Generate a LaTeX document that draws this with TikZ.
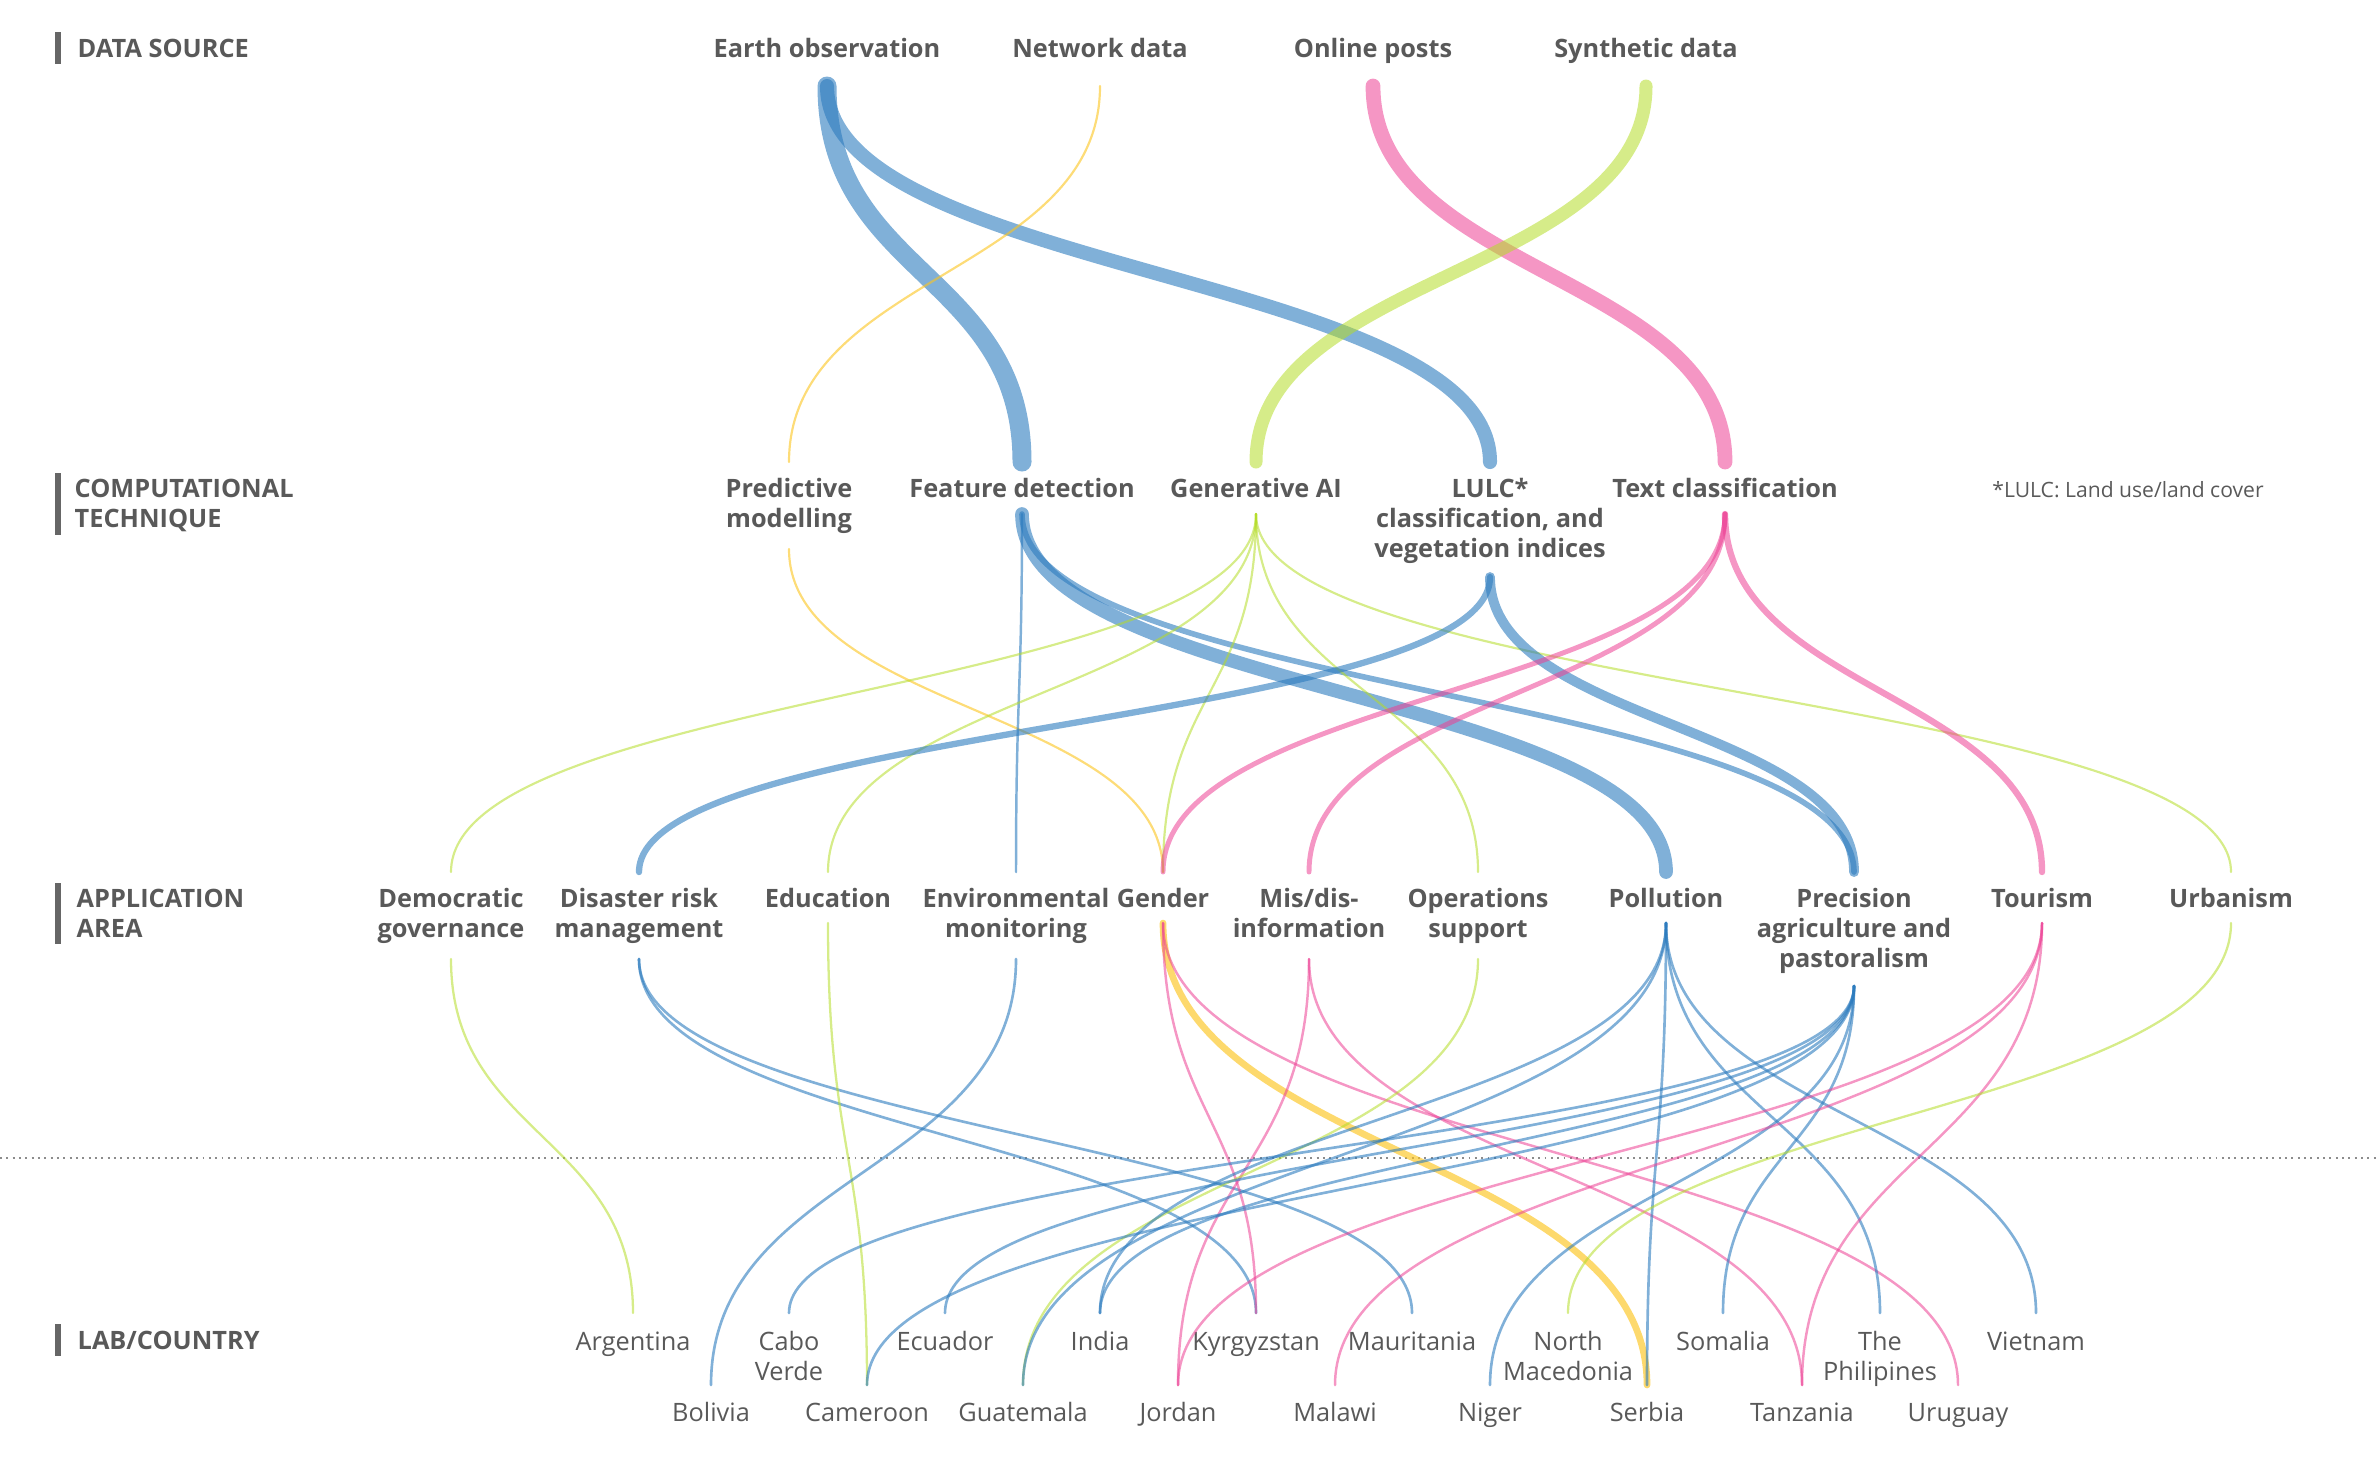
\documentclass[tikz,border=0pt]{standalone}
\usepackage{fontspec}
\setmainfont{Open Sans}
\usetikzlibrary{calc}
\definecolor{txt}{HTML}{595959}
\definecolor{cblue}{RGB}{44,123,190}
\definecolor{cpink}{RGB}{236,64,148}
\definecolor{cgreen}{RGB}{180,220,40}
\definecolor{cyel}{RGB}{252,196,30}
\definecolor{barc}{HTML}{666666}
\definecolor{dotc}{HTML}{8c8c8c}
\newcommand\mylink[3][]{\draw[#1] (#2) .. controls ($(#2)!0.5!(#2|-#3)$) and ($(#3)!0.5!(#3|-#2)$) .. (#3);}
\begin{document}
\begin{tikzpicture}[x=0.01cm,y=-0.01cm,
  lab/.style={text=txt,font=\fontsize{7.2pt}{8.53pt}\selectfont\bfseries,inner sep=0pt,anchor=base,align=center},
  cty/.style={text=txt,font=\fontsize{7.2pt}{8.53pt}\selectfont,inner sep=0pt,anchor=base,align=center},
  hdr/.style={text=txt,font=\fontsize{7.2pt}{8.53pt}\selectfont\bfseries,inner sep=0pt,anchor=base west,align=left},
  lk/.style={draw opacity=0.6,line cap=round},
  bl/.style={lk,cblue},
  pk/.style={lk,cpink,draw opacity=0.55},
  gr/.style={lk,cgreen,draw opacity=0.55},
  ye/.style={lk,cyel,draw opacity=0.6},
  thin/.style={line width=0.62pt}
]
\useasboundingbox (0,0) rectangle (2379,1459);
% headers (base anchor of a multi-line node = last line's baseline)
\fill[barc] (55,32) rectangle (61,64);
\fill[barc] (55,473) rectangle (61,535);
\fill[barc] (55,883) rectangle (61,944);
\fill[barc] (55,1324) rectangle (61,1356);
\node[hdr] (h1) at (77,57) {DATA SOURCE};
\node[hdr] (h2) at (74,527) {COMPUTATIONAL\\TECHNIQUE};
\node[hdr] (h3) at (76,937) {APPLICATION\\AREA};
\node[hdr] (h4) at (77,1349) {LAB/COUNTRY};
% dotted separator
\coordinate (dl) at (0,1158);
\coordinate (dr) at (2379,1158);
\draw[dotc,line width=0.55pt,dash pattern=on 0.55pt off 1.25pt] (dl) -- (dr);
% row 1
\node[lab] (eo) at (827,57) {Earth observation};
\node[lab] (nd) at (1100,57) {Network data};
\node[lab] (op) at (1373,57) {Online posts};
\node[lab] (sd) at (1646,57) {Synthetic data};
\coordinate (eoB) at (827,86);
\coordinate (ndB) at (1100,86);
\coordinate (opB) at (1373,86);
\coordinate (sdB) at (1646,86);
% row 2
\node[lab] (pm) at (789,527) {Predictive\\modelling};
\node[lab] (fd) at (1022,497) {Feature detection};
\node[lab] (ga) at (1256,497) {Generative AI};
\node[lab] (lu) at (1490,557) {LULC*\\classification, and\\vegetation indices};
\node[lab] (tc) at (1725,497) {Text classification};
\node[cty,font=\fontsize{6pt}{7pt}\selectfont] (fn) at (2128,497) {*LULC: Land use/land cover};
\coordinate (pmT) at (789,462);  \coordinate (pmB) at (789,549);
\coordinate (fdT) at (1022,462); \coordinate (fdB) at (1022,514);
\coordinate (gaT) at (1256,462); \coordinate (gaB) at (1256,514);
\coordinate (luT) at (1490,462); \coordinate (luB) at (1490,577);
\coordinate (tcT) at (1725,462); \coordinate (tcB) at (1725,514);
% row 3
\node[lab] (dg) at (451,937) {Democratic\\governance};
\node[lab] (dr) at (639,937) {Disaster risk\\management};
\node[lab] (ed) at (828,907) {Education};
\node[lab] (en) at (1016,937) {Environmental\\monitoring};
\node[lab] (ge) at (1163,907) {Gender};
\node[lab] (mi) at (1309,937) {Mis/dis-\\information};
\node[lab] (os) at (1478,937) {Operations\\support};
\node[lab] (po) at (1666,907) {Pollution};
\node[lab] (pr) at (1854,967) {Precision\\agriculture and\\pastoralism};
\node[lab] (to) at (2042,907) {Tourism};
\node[lab] (ur) at (2231,907) {Urbanism};
\coordinate (dgT) at (451,872);  \coordinate (dgB) at (451,959);
\coordinate (drT) at (639,872);  \coordinate (drB) at (639,959);
\coordinate (edT) at (828,872);  \coordinate (edB) at (828,923);
\coordinate (enT) at (1016,872); \coordinate (enB) at (1016,959);
\coordinate (geT) at (1163,872); \coordinate (geB) at (1163,923);
\coordinate (miT) at (1309,872); \coordinate (miB) at (1309,959);
\coordinate (osT) at (1478,872); \coordinate (osB) at (1478,959);
\coordinate (poT) at (1666,872); \coordinate (poB) at (1666,923);
\coordinate (prT) at (1854,872); \coordinate (prB) at (1854,986);
\coordinate (toT) at (2042,872); \coordinate (toB) at (2042,923);
\coordinate (urT) at (2231,872); \coordinate (urB) at (2231,923);
% row 4
\node[cty] (ar) at (633,1350) {Argentina};
\node[cty] (cv) at (789,1380) {Cabo\\Verde};
\node[cty] (ec) at (945,1350) {Ecuador};
\node[cty] (in) at (1100,1350) {India};
\node[cty] (ky) at (1256,1350) {Kyrgyzstan};
\node[cty] (ma) at (1412,1350) {Mauritania};
\node[cty] (nm) at (1568,1380) {North\\Macedonia};
\node[cty] (so) at (1723,1350) {Somalia};
\node[cty] (ph) at (1880,1380) {The\\Philipines};
\node[cty] (vi) at (2036,1350) {Vietnam};
\node[cty] (bo) at (711,1421) {Bolivia};
\node[cty] (ca) at (867,1421) {Cameroon};
\node[cty] (gu) at (1023,1421) {Guatemala};
\node[cty] (jo) at (1178,1421) {Jordan};
\node[cty] (mw) at (1335,1421) {Malawi};
\node[cty] (ni) at (1490,1421) {Niger};
\node[cty] (se) at (1647,1421) {Serbia};
\node[cty] (ta) at (1802,1421) {Tanzania};
\node[cty] (uy) at (1958,1421) {Uruguay};
\coordinate (arT) at (633,1313);  \coordinate (cvT) at (789,1313);
\coordinate (ecT) at (945,1313);  \coordinate (inT) at (1100,1313);
\coordinate (kyT) at (1256,1313); \coordinate (maT) at (1412,1313);
\coordinate (nmT) at (1568,1313); \coordinate (soT) at (1723,1313);
\coordinate (phT) at (1880,1313); \coordinate (viT) at (2036,1313);
\coordinate (boT) at (711,1385);  \coordinate (caT) at (867,1385);
\coordinate (guT) at (1023,1385); \coordinate (joT) at (1178,1385);
\coordinate (mwT) at (1335,1385); \coordinate (niT) at (1490,1385);
\coordinate (seT) at (1647,1385); \coordinate (taT) at (1802,1385);
\coordinate (uyT) at (1958,1385);
% ---- links: source -> technique
\mylink[bl,line width=5.4pt]{eoB}{fdT}
\mylink[bl,line width=4.0pt]{eoB}{luT}
\mylink[ye,thin]{ndB}{pmT}
\mylink[pk,line width=4.2pt]{opB}{tcT}
\mylink[gr,line width=3.7pt]{sdB}{gaT}
% ---- technique -> area
\mylink[ye,thin]{pmB}{geT}
\mylink[bl,line width=0.7pt]{fdB}{enT}
\mylink[bl,line width=3.9pt]{fdB}{poT}
\mylink[bl,line width=1.6pt]{fdB}{prT}
\mylink[gr,thin]{gaB}{dgT}
\mylink[gr,thin]{gaB}{edT}
\mylink[gr,thin]{gaB}{geT}
\mylink[gr,thin]{gaB}{osT}
\mylink[gr,thin]{gaB}{urT}
\mylink[bl,line width=1.8pt]{luB}{drT}
\mylink[bl,line width=2.8pt]{luB}{prT}
\mylink[pk,line width=1.4pt]{tcB}{geT}
\mylink[pk,line width=1.4pt]{tcB}{miT}
\mylink[pk,line width=1.8pt]{tcB}{toT}
% ---- area -> country
\mylink[gr,line width=0.65pt]{dgB}{arT}
\mylink[bl,line width=0.75pt]{drB}{kyT}
\mylink[bl,line width=0.75pt]{drB}{maT}
\mylink[gr,line width=0.65pt]{edB}{caT}
\mylink[bl,line width=0.75pt]{enB}{boT}
\mylink[ye,line width=1.9pt,draw opacity=0.65]{geB}{seT}
\mylink[pk,line width=0.7pt]{geB}{kyT}
\mylink[pk,line width=0.7pt]{geB}{uyT}
\mylink[pk,line width=0.7pt]{miB}{joT}
\mylink[pk,line width=0.7pt]{miB}{taT}
\mylink[gr,line width=0.65pt]{osB}{guT}
\mylink[bl,line width=0.75pt]{poB}{seT}
\mylink[bl,line width=0.75pt]{poB}{phT}
\mylink[bl,line width=0.75pt]{poB}{viT}
\mylink[bl,line width=0.75pt]{poB}{inT}
\mylink[bl,line width=0.75pt]{poB}{guT}
\mylink[bl,line width=0.75pt]{prB}{cvT}
\mylink[bl,line width=0.75pt]{prB}{ecT}
\mylink[bl,line width=0.75pt]{prB}{caT}
\mylink[bl,line width=0.75pt]{prB}{inT}
\mylink[bl,line width=0.75pt]{prB}{niT}
\mylink[bl,line width=0.75pt]{prB}{soT}
\mylink[pk,line width=0.7pt]{toB}{joT}
\mylink[pk,line width=0.7pt]{toB}{mwT}
\mylink[pk,line width=0.7pt]{toB}{taT}
\mylink[gr,line width=0.65pt]{urB}{nmT}
\end{tikzpicture}
\end{document}
